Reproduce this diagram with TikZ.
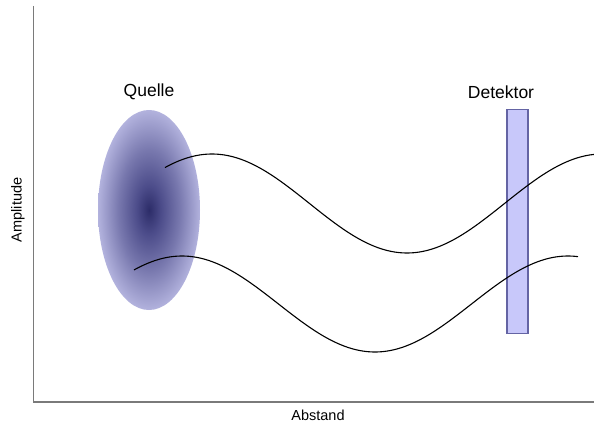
\documentclass[tikz,border=0pt]{standalone}
\usepackage{fontspec}
\setmainfont{Liberation Sans}
\usetikzlibrary{shapes.geometric,positioning}
\definecolor{SrcDark}{HTML}{2C2C68}
\definecolor{SrcInner}{HTML}{4C4C8A}
\definecolor{SrcMid}{HTML}{7878AE}
\definecolor{SrcLight}{HTML}{B8B8E2}
\definecolor{DetFill}{HTML}{C8C8FA}
\definecolor{DetLine}{HTML}{6464A4}
\definecolor{AxisGray}{HTML}{7A7A7A}
\pgfdeclareradialshading{srcglow}{\pgfpoint{0bp}{0bp}}{color(0bp)=(SrcDark); color(6bp)=(SrcInner); color(15bp)=(SrcMid); color(26bp)=(SrcLight); color(50bp)=(SrcLight)}

\begin{document}
\begin{tikzpicture}[x=1pt,y=-1pt,wave/.style={line width=1.1pt,black},lbl/.style={font=\fontsize{17.5}{20}\selectfont},axlbl/.style={font=\fontsize{14.5}{17}\selectfont}]
\useasboundingbox (0,0) rectangle (594,428);
% axes
\coordinate (top) at (33.5,6);
\coordinate (orig) at (33.5,402);
\coordinate (right) at (594,402);
\draw[AxisGray,line width=1.2pt] (top)--(orig)--(right);
\node[axlbl,rotate=90](amp) at (18,210){Amplitude};
\node[axlbl](abst) at (318,415){Abstand};
% source and detector
\node[ellipse,minimum width=102pt,minimum height=200pt,inner sep=0pt,shading=srcglow](quelle) at (149,210){};
\node[draw=DetLine,fill=DetFill,line width=1.7pt,minimum width=21pt,minimum height=224pt,inner sep=0pt](detektor) at (517.5,221.5){};
\node[lbl](lquelle) at (149,92){Quelle};
\node[lbl](ldetektor) at (501,92){Detektor};
% waves
\draw[wave] plot[domain=165:594,samples=90,smooth] (\x,{203.5-49.5*cos((\x-212)/195*180)});
\draw[wave] plot[domain=134:578,samples=90,smooth] (\x,{304-48*cos((\x-182)/193*180)});
\end{tikzpicture}
\end{document}
